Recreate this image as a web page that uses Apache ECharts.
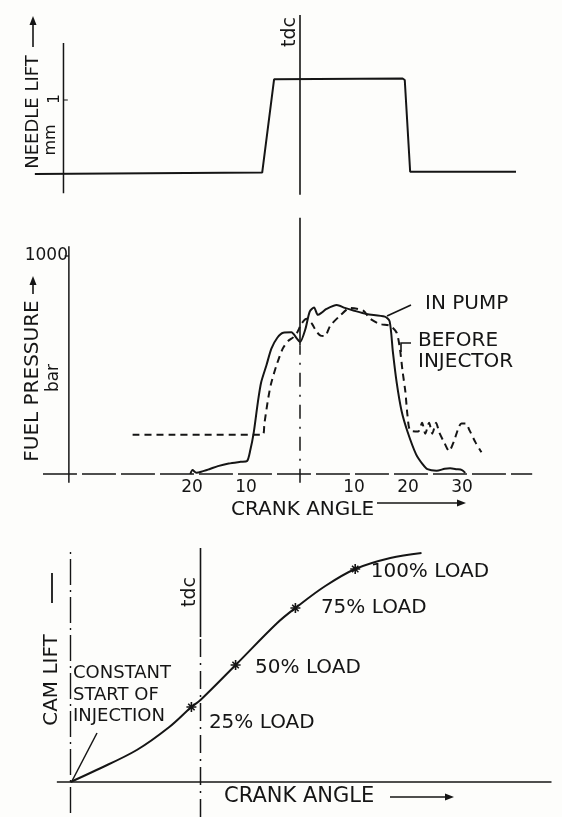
<!DOCTYPE html>
<html>
<head>
<meta charset="utf-8">
<script src="https://cdn.jsdelivr.net/npm/echarts@6/dist/echarts.min.js"></script>
<style>
  html, body { margin: 0; padding: 0; background: #fdfdfb; }
  #chart { width: 562px; height: 817px; }
</style>
</head>
<body>
<div id="chart"></div>
<script>
// needle lift (mm) against crank angle (deg, negative = before tdc)
const needleAngle = [-49.1, -7.0, -4.8, 19.0, 19.4, 20.4, 40.0];
const needleLift  = [0, 0.02, 1.28, 1.29, 1.27, 0.03, 0.03];

// fuel pressure (bar), in pump
const pumpAngle = [-20.3, -19.9, -19.2, -18.3, -16.8, -15.2, -13.2, -11.0, -9.8, -9.2, -8.6, -7.8, -7.2, -6.2, -5.3, -4.2, -3.1, -1.6, -0.6, 0,
  1.0, 1.8, 2.6, 3.3, 4.0, 4.9, 6.8, 8.3, 9.9, 12.3, 15.7, 16.6, 17.2, 17.9, 18.8, 19.9, 21.5, 22.7, 23.6, 25.3, 26.8, 27.8, 29.0, 30.0, 30.6];
const pumpPress = [0, 18, 6, 10, 22, 36, 48, 56, 60, 110, 185, 330, 420, 500, 575, 625, 648, 650, 622, 605,
  665, 745, 764, 730, 740, 757, 775, 762, 750, 734, 722, 700, 560, 420, 290, 195, 90, 45, 22, 15, 24, 26, 22, 18, 5];

// fuel pressure (bar), before injector
const injAngle = [-31.0, -6.9, -6.6, -6.0, -5.4, -4.4, -3.2, -2.2, -1.2, -0.5, 0.3, 1.2, 2.2, 3.0, 3.8, 4.6, 5.6, 7.4, 9.3, 11.7,
  13.0, 14.8, 16.7, 17.9, 18.5, 19.0, 19.5, 19.9, 20.4, 21.9, 22.6, 23.2, 23.9, 24.5, 25.2, 25.8, 26.8, 27.6, 28.5, 29.4, 29.9, 30.7, 31.4, 32.5, 33.6];
const injPress = [180, 180, 230, 330, 410, 495, 575, 610, 628, 650, 690, 712, 690, 655, 635, 633, 680, 726, 762, 749,
  712, 688, 680, 648, 575, 470, 380, 270, 200, 195, 235, 185, 235, 185, 235, 190, 140, 105, 150, 215, 232, 232, 200, 145, 100];

const pressTicks = [-20, -10, 10, 20, 30];

// cam lift against crank angle (relative units, 0 = start of injection, 10 = tdc)
const camAngle = [0, 2.0, 5.1, 7.6, 9.3, 10.0, 12.7, 15.9, 17.3, 19.6, 21.9, 24.6, 27.0];
const camLift  = [0, 1.2, 3.2, 5.5, 7.5, 8.2, 11.7, 15.9, 17.4, 19.6, 21.3, 22.4, 22.9];

const loadNames = ['25% LOAD', '50% LOAD', '75% LOAD', '100% LOAD'];
const loadAngle = [9.3, 12.7, 17.3, 21.9];
const loadLift  = [7.5, 11.7, 17.4, 21.3];

const ink = '#151515';
const font = '"DejaVu Sans", sans-serif';

// pixel scale of each panel
function gridFor(x0, xs, xmin, xmax, y0, ys, ymin, ymax) {
  return {
    left: x0 + xmin * xs, width: (xmax - xmin) * xs,
    top: y0 - ymax * ys, height: (ymax - ymin) * ys
  };
}
const ranges = [
  { xmin: -50, xmax: 45, ymin: -0.35, ymax: 2.2 },
  { xmin: -50, xmax: 45, ymin: -80, ymax: 1250 },
  { xmin: -5, xmax: 37, ymin: -3.5, ymax: 24 }
];
const grids = [
  gridFor(300, 5.4, -50, 45, 174, 74, -0.35, 2.2),
  gridFor(300, 5.4, -50, 45, 474, 0.218, -80, 1250),
  gridFor(70.5, 13, -5, 37, 782, 10, -3.5, 24)
];

function zip(a, b) { return a.map((v, i) => [v, b[i]]); }

function seg(gi, pts, width, type) {
  return {
    type: 'line', xAxisIndex: gi, yAxisIndex: gi, data: pts, symbol: 'none', silent: true,
    lineStyle: { color: ink, width: width || 1.5, type: type || 'solid' }, z: 1
  };
}

const xAxes = ranges.map((r, i) => ({
  type: 'value', gridIndex: i, min: r.xmin, max: r.xmax,
  show: i === 1,
  interval: 10,
  axisLine: { show: false },
  axisTick: { show: false },
  splitLine: { show: false },
  axisLabel: {
    show: i === 1, margin: -12, color: ink, fontFamily: font, fontSize: 17,
    formatter: v => pressTicks.includes(v) ? String(Math.abs(v)) : ''
  }
}));
const yAxes = ranges.map((r, i) => ({
  type: 'value', gridIndex: i, min: r.ymin, max: r.ymax, show: false,
  splitLine: { show: false }
}));

const loadLabelOffset = [[10, 16], [12, 3], [18, 0], [8, 3]];

const series = [
  // panel 1: needle lift
  seg(0, [[-43.8, -0.26], [-43.8, 1.77]], 1.5),
  seg(0, [[-43.8, 1], [-43.0, 1]], 1.2),
  seg(0, [[0, -0.28], [0, 2.15]], 1.6),
  Object.assign(seg(0, zip(needleAngle, needleLift), 2), { z: 2 }),

  // panel 2: fuel pressure
  seg(1, [[-47.6, 0], [43, 0]], 1.5, [34, 5]),
  seg(1, [[-42.8, -40], [-42.8, 1045]], 1.5),
  seg(1, [[-42.8, 1000], [-43.6, 1000]], 1.2),
  seg(1, [[0, 590], [0, 1175]], 1.6),
  seg(1, [[0, -40], [0, 590]], 1.5, [14, 8, 2, 8]),
  {
    type: 'line', name: 'IN PUMP', xAxisIndex: 1, yAxisIndex: 1, data: zip(pumpAngle, pumpPress),
    symbol: 'none', smooth: 0.25, lineStyle: { color: ink, width: 2 }, z: 3
  },
  {
    type: 'line', name: 'BEFORE INJECTOR', xAxisIndex: 1, yAxisIndex: 1, data: zip(injAngle, injPress),
    symbol: 'none', smooth: 0.25, lineStyle: { color: ink, width: 2, type: [7, 5] }, z: 3
  },

  // panel 3: cam lift
  seg(2, [[-1.05, 0], [37, 0]], 1.6),
  seg(2, [[0, -3.1], [0, 23.2]], 1.4, [26, 5, 2, 5]),
  seg(2, [[10, 14.5], [10, 23.4]], 1.6),
  seg(2, [[10, -3.5], [10, 14.5]], 1.5, [18, 6, 2, 6]),
  {
    type: 'line', xAxisIndex: 2, yAxisIndex: 2, data: zip(camAngle, camLift),
    symbol: 'none', smooth: 0.35, lineStyle: { color: ink, width: 2 }, z: 3
  },
  {
    type: 'scatter', xAxisIndex: 2, yAxisIndex: 2,
    data: loadAngle.map((a, i) => ({
      value: [a, loadLift[i]], name: loadNames[i],
      label: { distance: loadLabelOffset[i][0], offset: [0, loadLabelOffset[i][1]] }
    })),
    symbol: 'path://M0,5L10,5M5,0L5,10M1.8,1.8L8.2,8.2M8.2,1.8L1.8,8.2',
    symbolSize: 10,
    itemStyle: { color: 'none', borderColor: ink, borderWidth: 1.6, opacity: 1 },
    label: {
      show: true, position: 'right', formatter: p => p.name,
      color: ink, fontFamily: font, fontSize: 20, opacity: 1
    },
    z: 4
  }
];

function txt(s, x, y, size, align) {
  return {
    type: 'text', x: x, y: y,
    style: { text: s, fill: ink, font: (size || 18) + 'px ' + font, textAlign: align || 'left', textVerticalAlign: 'middle' }
  };
}
function vtxt(s, x, y, size) {
  return {
    type: 'text', x: x, y: y, rotation: Math.PI / 2,
    style: { text: s, fill: ink, font: (size || 18) + 'px ' + font, textAlign: 'center', textVerticalAlign: 'middle' }
  };
}
function line(x1, y1, x2, y2, w) {
  return { type: 'line', shape: { x1, y1, x2, y2 }, style: { stroke: ink, lineWidth: w || 1.6 } };
}
function head(x, y, dir) {
  // small filled arrow head, tip at (x, y)
  const p = dir === 'up' ? [[x, y], [x - 3.5, y + 9], [x + 3.5, y + 9]]
                         : [[x, y], [x - 9, y - 3.5], [x - 9, y + 3.5]];
  return { type: 'polygon', shape: { points: p }, style: { fill: ink } };
}

const graphic = [
  // panel 1
  vtxt('NEEDLE LIFT', 33, 112, 18),
  line(33, 47, 33, 22), head(33, 16, 'up'),
  vtxt('mm', 51, 140, 16),
  vtxt('1', 55, 99, 15),
  vtxt('tdc', 290, 32, 19),

  // panel 2
  txt('1000', 68, 256, 17, 'right'),
  vtxt('FUEL PRESSURE', 33, 381, 20),
  line(33, 294, 33, 283), head(33, 276, 'up'),
  vtxt('bar', 54, 378, 17),
  txt('IN PUMP', 425, 304, 20),
  line(387, 316, 411, 305),
  txt('BEFORE', 418, 341, 20),
  txt('INJECTOR', 418, 362, 20),
  { type: 'polyline', shape: { points: [[411, 343], [401, 343], [401, 352]] }, style: { stroke: ink, lineWidth: 1.6, fill: null } },
  txt('CRANK ANGLE', 231, 510, 20),
  line(377, 503, 458, 503), head(466, 503, 'right'),

  // panel 3
  vtxt('tdc', 190, 592, 19),
  vtxt('CAM LIFT', 52, 680, 20),
  line(52, 603, 52, 573, 1.8),
  txt('CONSTANT', 73, 673, 18),
  txt('START OF', 73, 695, 18),
  txt('INJECTION', 73, 716, 18),
  line(97, 733, 72, 781, 1.5),
  txt('CRANK ANGLE', 224, 797, 21),
  line(390, 797, 446, 797), head(454, 797, 'right')
];

const chart = echarts.init(document.getElementById('chart'), null, { renderer: 'canvas' });
chart.setOption({
  backgroundColor: '#fdfdfb',
  animation: false,
  grid: grids,
  xAxis: xAxes,
  yAxis: yAxes,
  series: series,
  graphic: graphic
});
</script>
</body>
</html>
